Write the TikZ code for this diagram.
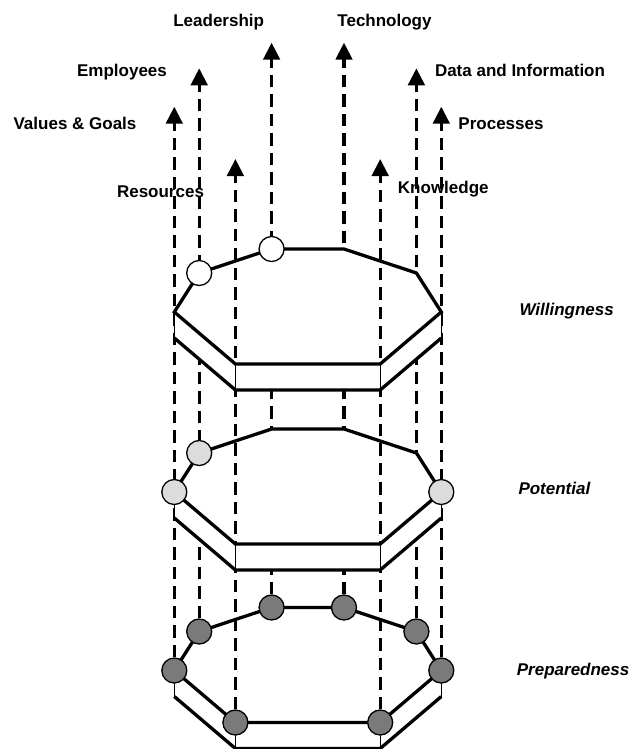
\documentclass[tikz,border=0pt]{standalone}
\usepackage{fontspec}
\setmainfont{Liberation Sans}
\usetikzlibrary{arrows.meta}
\definecolor{lightdot}{RGB}{220,220,220}
\definecolor{darkdot}{RGB}{122,122,122}
\pgfdeclarelayer{back}
\pgfdeclarelayer{mid}
\pgfsetlayers{back,mid,main}
\tikzset{
  flowplain/.style={line width=3.3pt, dash pattern=on 12.5pt off 7pt},
  flow/.style={flowplain, -{Triangle[length=17pt,width=16.5pt]}},
  rim/.style={line width=3.3pt},
  sideedge/.style={line width=1.2pt},
  dot/.style={circle, draw, line width=1.3pt, minimum size=25pt, inner sep=0pt},
  lbl/.style={font=\fontsize{17}{20}\selectfont\bfseries, inner sep=0pt, anchor=base},
  lvl/.style={font=\fontsize{17}{20}\selectfont\bfseries\itshape, inner sep=0pt, anchor=base west},
}
\newcommand\octpts[2]{%
  \coordinate (#1A) at (174.3,#2+63);
  \coordinate (#1B) at (199.2,#2+24);
  \coordinate (#1C) at (271.6,#2);
  \coordinate (#1D) at (344.0,#2);
  \coordinate (#1E) at (416.4,#2+24);
  \coordinate (#1F) at (441.3,#2+63);
  \coordinate (#1G) at (380.2,#2+115);
  \coordinate (#1H) at (235.4,#2+115);
  \coordinate (#1A2) at (174.3,#2+89);
  \coordinate (#1F2) at (441.3,#2+89);
  \coordinate (#1G2) at (380.2,#2+141);
  \coordinate (#1H2) at (235.4,#2+141);
}
\newcommand\prism[1]{%
  \fill[white] (#1A) -- (#1B) -- (#1C) -- (#1D) -- (#1E) -- (#1F) -- (#1F2) -- (#1G2) -- (#1H2) -- (#1A2) -- cycle;
  \begin{scope}
    \clip (#1A) -- (#1B) -- (#1C) -- (#1D) -- (#1E) -- (#1F) -- (#1G) -- (#1H) -- cycle;
    \draw[flowplain] (rHc) -- (tRes);
    \draw[flowplain] (rGc) -- (tKnow);
  \end{scope}
  \draw[sideedge] (#1A) -- (#1A2) (#1H) -- (#1H2) (#1G) -- (#1G2) (#1F) -- (#1F2);
  \draw[rim] (#1A2) -- (#1H2) -- (#1G2) -- (#1F2);
  \draw[rim] (#1A) -- (#1B) -- (#1C) -- (#1D) -- (#1E) -- (#1F) -- (#1G) -- (#1H) -- cycle;
}
\begin{document}
\begin{tikzpicture}[x=1pt,y=-1pt]
\useasboundingbox (0,0) rectangle (630,749);
% octagon vertices
\octpts{w}{249}
\octpts{p}{429}
\octpts{r}{607.5}
% arrow tips
\coordinate (tVG) at (174.3,106.7);
\coordinate (tEmp) at (199.2,68.3);
\coordinate (tRes) at (235.4,159);
\coordinate (tLead) at (271.6,42.7);
\coordinate (tTech) at (344.0,42.7);
\coordinate (tKnow) at (380.2,159);
\coordinate (tData) at (416.4,68.3);
\coordinate (tProc) at (441.3,106.7);
% circles
\node[dot, fill=white] (wBc) at (wB) {};
\node[dot, fill=white] (wCc) at (wC) {};
\node[dot, fill=lightdot] (pBc) at (pB) {};
\node[dot, fill=lightdot] (pAc) at (pA) {};
\node[dot, fill=lightdot] (pFc) at (pF) {};
\foreach \v in {A,B,C,D,E,F,G,H}{
  \node[dot, fill=darkdot] (r\v c) at (r\v) {};
}
% dashed arrows
\begin{pgfonlayer}{back}
\draw[flow] (rAc) -- (tVG);
\draw[flow] (rBc) -- (tEmp);
\draw[flow] (rHc) -- (tRes);
\draw[flow] (rCc) -- (tLead);
\draw[flow] (rDc) -- (tTech);
\draw[flow] (rGc) -- (tKnow);
\draw[flow] (rEc) -- (tData);
\draw[flow] (rFc) -- (tProc);
\end{pgfonlayer}
% prisms
\begin{pgfonlayer}{mid}
\prism{w}
\prism{p}
\prism{r}
\end{pgfonlayer}
% labels
\node[lbl] (lead) at (218.7,26.7) {Leadership};
\node[lbl] (tech) at (384.5,26.7) {Technology};
\node[lbl] (emp) at (122,77) {Employees};
\node[lbl] (data) at (520,77) {Data and Information};
\node[lbl] (vg) at (75,129.3) {Values \& Goals};
\node[lbl] (proc) at (501,129.3) {Processes};
\node[lbl] (res) at (160.5,197) {Resources};
\node[lbl] (know) at (443.3,193.3) {Knowledge};
\node[lvl] (will) at (519.3,315.3) {Willingness};
\node[lvl] (pot) at (518.3,494.3) {Potential};
\node[lvl] (prep) at (516.7,675.3) {Preparedness};
\end{tikzpicture}
\end{document}
